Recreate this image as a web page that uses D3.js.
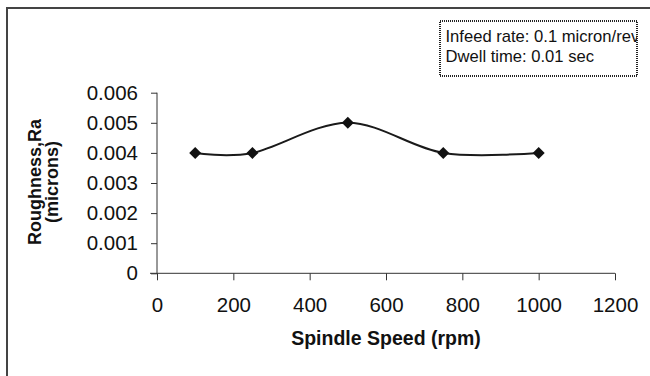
<!DOCTYPE html>
<html>
<head>
<meta charset="utf-8">
<script src="https://cdn.jsdelivr.net/npm/d3@7"></script>
<style>
  body { margin: 0; background: #fff; }
  svg text { font-family: "Liberation Sans", Arial, sans-serif; fill: #111; }
</style>
</head>
<body>
<div id="chart"></div>
<script>
// Dados
const speeds = [100, 250, 500, 750, 1000];
const roughness = [0.004, 0.004, 0.005, 0.004, 0.004];
const xTicks = [0, 200, 400, 600, 800, 1000, 1200];
const yTicks = [0, 0.001, 0.002, 0.003, 0.004, 0.005, 0.006];
const legendLines = ['Infeed rate: 0.1 micron/rev', 'Dwell time: 0.01 sec'];

const width = 650, height = 376;
const plot = { left: 157, right: 615, top: 92.7, bottom: 273.3 };

const svg = d3.select('#chart')
  .append('svg')
  .attr('width', width)
  .attr('height', height);

// Moldura (só topo e esquerda aparecem)
svg.append('line')
  .attr('x1', 6).attr('x2', width).attr('y1', 8).attr('y2', 8)
  .attr('stroke', '#444').attr('stroke-width', 2);
svg.append('line')
  .attr('x1', 7).attr('x2', 7).attr('y1', 7).attr('y2', height)
  .attr('stroke', '#444').attr('stroke-width', 2);

// Escalas
const x = d3.scaleLinear().domain([0, 1200]).range([plot.left, plot.right]);
const y = d3.scaleLinear().domain([0, 0.006]).range([plot.bottom, plot.top]);

// Eixo X
const xAxis = svg.append('g')
  .attr('transform', `translate(0,${plot.bottom})`)
  .call(d3.axisBottom(x).tickValues(xTicks).tickSize(7).tickPadding(17).tickFormat(d3.format('d')));

// Eixo Y
const yAxis = svg.append('g')
  .attr('transform', `translate(${plot.left},0)`)
  .call(d3.axisLeft(y).tickValues(yTicks).tickSize(6).tickPadding(13)
    .tickFormat(d => d === 0 ? '0' : d3.format('.3f')(d)));

[xAxis, yAxis].forEach(ax => {
  ax.select('.domain').attr('stroke', '#333');
  ax.selectAll('.tick line').attr('stroke', '#333');
  ax.selectAll('.tick text')
    .attr('font-size', '20.5px')
    .attr('font-family', '"Liberation Sans", Arial, sans-serif')
    .attr('fill', '#111');
});
// domínio sem as "pontas" do d3
xAxis.select('.domain').attr('d', `M${plot.left - 7},0H${plot.right}`);
yAxis.select('.domain').attr('d', `M0,${plot.top}V${plot.bottom}`);

// Linha suavizada
const line = d3.line()
  .x((d, i) => x(speeds[i]))
  .y(d => y(d))
  .curve(d3.curveCardinal.tension(0));

svg.append('path')
  .datum(roughness)
  .attr('d', line)
  .attr('fill', 'none')
  .attr('stroke', '#1a1a1a')
  .attr('stroke-width', 2);

// Marcadores em losango
svg.selectAll('.marker')
  .data(roughness)
  .enter()
  .append('path')
  .attr('class', 'marker')
  .attr('d', d3.symbol().type(d3.symbolSquare).size(72))
  .attr('transform', (d, i) => `translate(${x(speeds[i])},${y(d)}) rotate(45)`)
  .attr('fill', '#111');

// Títulos dos eixos
svg.append('text')
  .attr('x', (plot.left + plot.right) / 2)
  .attr('y', 345)
  .attr('text-anchor', 'middle')
  .attr('font-weight', 'bold')
  .attr('font-size', '19.5px')
  .text('Spindle Speed (rpm)');

const yTitle = svg.append('text')
  .attr('transform', `translate(0,182) rotate(-90)`)
  .attr('text-anchor', 'middle')
  .attr('font-weight', 'bold')
  .attr('font-size', '18px');
yTitle.append('tspan').attr('x', 0).attr('y', 41).text('Roughness,Ra');
yTitle.append('tspan').attr('x', 0).attr('y', 58).text('(microns)');

// Legenda (caixa de texto recortada)
const box = { x: 440, y: 21, w: 197, h: 55 };
svg.append('clipPath').attr('id', 'legend-clip')
  .append('rect')
  .attr('x', box.x).attr('y', box.y).attr('width', box.w).attr('height', box.h);

svg.append('rect')
  .attr('x', box.x).attr('y', box.y).attr('width', box.w).attr('height', box.h)
  .attr('fill', '#fff');

const legendText = svg.append('g').attr('clip-path', 'url(#legend-clip)');
legendText.selectAll('text')
  .data(legendLines)
  .enter()
  .append('text')
  .attr('x', box.x + 5.5)
  .attr('y', (d, i) => 41.5 + i * 20.5)
  .attr('font-size', '16.6px')
  .text(d => d);

svg.append('rect')
  .attr('x', box.x).attr('y', box.y).attr('width', box.w).attr('height', box.h)
  .attr('fill', 'none')
  .attr('stroke', '#222')
  .attr('stroke-width', 2)
  .attr('stroke-dasharray', '1,1');
</script>
</body>
</html>
